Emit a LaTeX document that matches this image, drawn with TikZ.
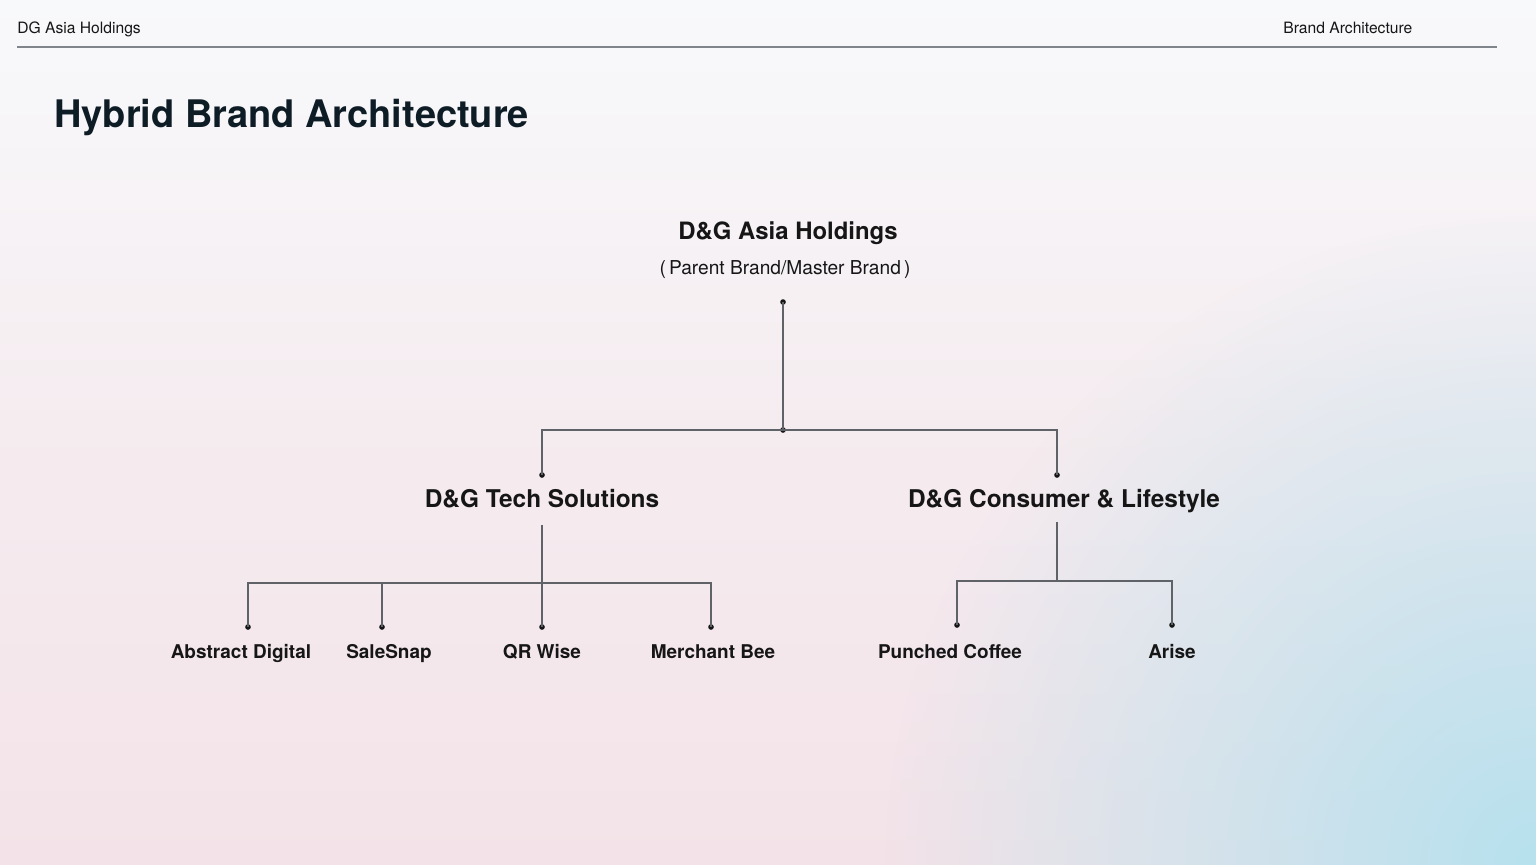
\documentclass[tikz,border=0pt]{standalone}
\usepackage{fontspec}
\setmainfont{TeX Gyre Heros}
\usepackage{xcolor}
\usepackage{tikz}
\usetikzlibrary{positioning,fadings}
\definecolor{inkdark}{HTML}{0E1C26}
\definecolor{inktext}{HTML}{161616}
\definecolor{linegray}{HTML}{5F6368}
\definecolor{rulegray}{HTML}{80858B}
\definecolor{bgtop}{HTML}{F8F9FB}
\definecolor{bgpink}{HTML}{F3E3E8}
\definecolor{bgblue}{HTML}{B6E1EE}
\tikzfading[name=cornerfade, inner color=transparent!0, outer color=transparent!100]
\tikzset{
  header/.style={font=\fontsize{8.9}{10}\selectfont, text=inktext, inner sep=0pt, anchor=base west},
  titletext/.style={font=\fontsize{21.6}{26}\selectfont\bfseries, text=inkdark, inner sep=0pt, anchor=base west},
  parentbrand/.style={font=\fontsize{13.6}{16}\selectfont\bfseries, text=inktext, inner sep=0pt, anchor=base},
  brandnote/.style={font=\fontsize{10.9}{13}\selectfont, text=inktext, inner sep=0pt, anchor=base},
  subbrand/.style={font=\fontsize{13.9}{17}\selectfont\bfseries, text=inktext, inner sep=0pt, anchor=base},
  leafbrand/.style={font=\fontsize{10.8}{13}\selectfont\bfseries, text=inktext, inner sep=0pt, anchor=base},
  dot/.style={circle, fill=inktext, inner sep=0pt, minimum size=3.2pt},
  link/.style={draw=linegray, line width=0.7pt},
}

\begin{document}
\begin{tikzpicture}
  % background
  \useasboundingbox (0,0) rectangle (30.72,-17.28);
  \shade[top color=bgtop, bottom color=bgpink, middle color=bgpink!60!bgtop] (0,0) rectangle (30.72,-17.28);
  \begin{scope}
    \clip (0,0) rectangle (30.72,-17.28);
    \fill[bgblue, path fading=cornerfade] (30.72,-17.28) circle (13);
    \fill[bgtop, path fading=cornerfade, opacity=0.8] (16,2) ellipse (22 and 6);
  \end{scope}

  % header
  \node[header] (hleft) at (0.34,-0.66) {DG Asia Holdings};
  \node[header] (hright) at (25.66,-0.66) {Brand Architecture};
  \draw[rulegray, line width=0.9pt] (0.34,-0.94) -- (29.94,-0.94);

  \node[titletext] (title) at (1.08,-2.54) {Hybrid Brand Architecture};

  % parent brand
  \node[parentbrand] (holding) at (15.76,-4.78) {D\&G Asia Holdings};
  \node[brandnote] (note) at (15.7,-5.48) {(\,Parent Brand/Master Brand\,)};

  \node[dot] (d0) at (15.66,-6.04) {};
  \node[dot] (j0) at (15.66,-8.6) {};
  \node[dot] (dtech) at (10.84,-9.5) {};
  \node[dot] (dcons) at (21.14,-9.5) {};
  \draw[link] (d0.center) -- (j0.center);
  \draw[link] (dtech.center) |- (j0.center) -| (dcons.center);

  % sub brands
  \node[subbrand] (tech) at (10.84,-10.14) {D\&G Tech Solutions};
  \node[subbrand] (consumer) at (21.28,-10.14) {D\&G Consumer \& Lifestyle};

  % tech solutions
  \coordinate (t0) at (10.84,-10.5);
  \coordinate (t1) at (10.84,-11.66);
  \draw[link] (t0) -- (t1);
  \foreach \name/\x/\lx/\txt in {abstract/4.96/4.82/Abstract Digital, salesnap/7.64/7.78/SaleSnap, qrwise/10.84/10.84/QR Wise, merchant/14.22/14.26/Merchant Bee} {
    \node[dot] (d\name) at (\x,-12.54) {};
    \draw[link] (t1) -| (d\name.center);
    \node[leafbrand] (\name) at (\lx,-13.16) {\txt};
  }

  % consumer and lifestyle
  \coordinate (c0) at (21.14,-10.44);
  \coordinate (c1) at (21.14,-11.62);
  \draw[link] (c0) -- (c1);
  \foreach \name/\x/\lx/\txt in {punched/19.14/19.0/Punched Coffee, arise/23.44/23.44/Arise} {
    \node[dot] (d\name) at (\x,-12.5) {};
    \draw[link] (c1) -| (d\name.center);
    \node[leafbrand] (\name) at (\lx,-13.16) {\txt};
  }

\end{tikzpicture}
\end{document}
